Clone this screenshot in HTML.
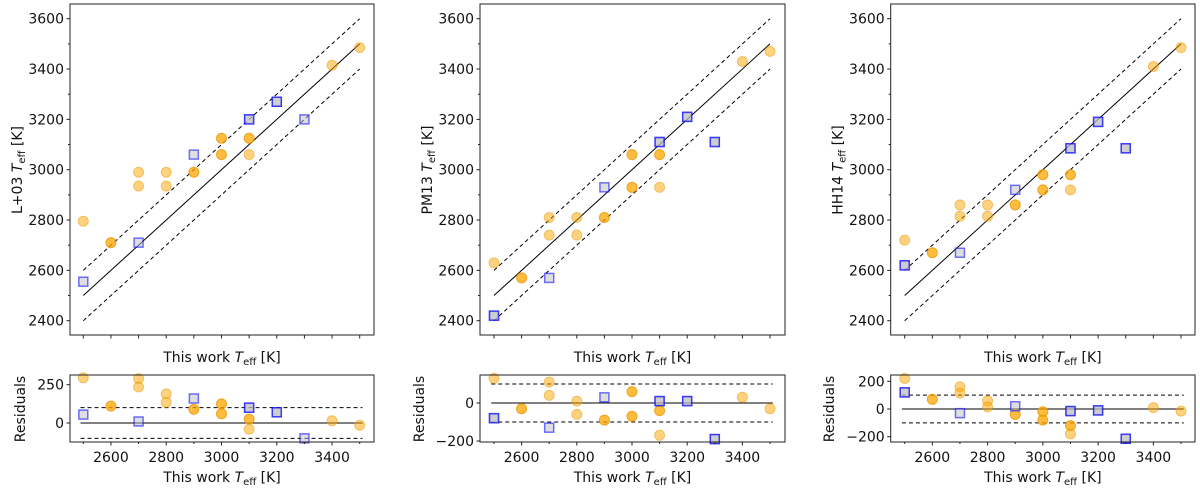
<!DOCTYPE html>
<html><head><meta charset="utf-8"><style>
body{margin:0;background:#fff;}
svg{display:block;font-family:"DejaVu Sans","Liberation Sans",sans-serif;}
</style></head><body>
<svg id="fig" width="1200" height="488" viewBox="0 0 1200 488" xmlns="http://www.w3.org/2000/svg"></svg>
<script>
// ---- data ----
const panelNames = ["L+03", "PM13", "HH14"];
const orangeX1 = [2500,2600,2600,2700,2700,2800,2800,2900,2900,3000,3000,3000,3000,3100,3100,3100,3400,3500];
const orangeY1 = [2795,2710,2710,2990,2935,2990,2935,2990,2990,3125,3125,3060,3060,3125,3125,3060,3415,3485];
const blueX1 = [2500,2700,2900,3100,3100,3200,3200,3300];
const blueY1 = [2555,2710,3060,3200,3200,3270,3270,3200];
const orangeX2 = [2500,2600,2600,2700,2700,2800,2800,2900,2900,3000,3000,3000,3000,3100,3100,3100,3400,3500];
const orangeY2 = [2630,2570,2570,2810,2740,2810,2740,2810,2810,3060,3060,2930,2930,3060,3060,2930,3430,3470];
const blueX2 = [2500,2500,2700,2900,3100,3100,3200,3200,3300,3300];
const blueY2 = [2420,2420,2570,2930,3110,3110,3210,3210,3110,3110];
const orangeX3 = [2500,2600,2600,2700,2700,2800,2800,2900,2900,3000,3000,3000,3000,3100,3100,3100,3400,3500];
const orangeY3 = [2720,2670,2670,2860,2815,2860,2815,2860,2860,2980,2980,2920,2920,2980,2980,2920,3410,3485];
const blueX3 = [2500,2500,2700,2900,3100,3100,3200,3200,3300,3300];
const blueY3 = [2620,2620,2670,2920,3085,3085,3190,3190,3085,3085];
const mainYTicks = [2400,2600,2800,3000,3200,3400,3600];
const resXTicks = [2600,2800,3000,3200,3400];
const resTicks1 = [0,250];
const resTicks2 = [-200,0];
const resTicks3 = [-200,0,200];

const NS="http://www.w3.org/2000/svg";
const svg=document.getElementById('fig');
function el(tag,attrs,parent){const e=document.createElementNS(NS,tag);for(const k in attrs)e.setAttribute(k,attrs[k]);(parent||svg).appendChild(e);return e;}

const panels=[
 {name:panelNames[0],ox:orangeX1,oy:orangeY1,bx:blueX1,by:blueY1,box:[70,374],x0:83.3,x1:359.7,rt:resTicks1,r0:423,rpx:38.3/250,rmin:[],rlabX:20},
 {name:panelNames[1],ox:orangeX2,oy:orangeY2,bx:blueX2,by:blueY2,box:[480,785],x0:494,x1:770,rt:resTicks2,r0:403,rpx:38/200,rlabX:419},
 {name:panelNames[2],ox:orangeX3,oy:orangeY3,bx:blueX3,by:blueY3,box:[890.7,1195],x0:904.7,x1:1181,rt:resTicks3,r0:409,rpx:27.7/200,rlabX:829}
];
const MT=4,MB=335,RT=375,RB=442;
function my(v){return 320.7-(v-2400)*(302/1200);}

panels.forEach((p,i)=>{
 const g=el('g',{});
 
 
 const sx=v=>p.x0+(v-2500)*(p.x1-p.x0)/1000;
 const ry=v=>p.r0-v*p.rpx;
 const L=p.box[0],R=p.box[1];
 // main reference lines
 const lines=[[0,'none'],[100,'4,3'],[-100,'4,3']];
 lines.forEach(([o,d])=>{
  const ln=el('line',{x1:sx(2500),y1:my(2500+o),x2:sx(3500),y2:my(3500+o),stroke:'#000','stroke-width':1,'stroke-dasharray':d},g);
  
  
 });
 // residual lines
 lines.forEach(([o,d])=>{
  const ln=el('line',{x1:sx(2490),y1:ry(o),x2:sx(3510),y2:ry(o),stroke:'#000','stroke-width':1,'stroke-dasharray':d},g);
  
  
 });
 // points
 p.ox.forEach((x,k)=>{
  const y=p.oy[k];
  [[my(y)],[ry(y-x)]].forEach(([cy])=>{
   const c=el('circle',{cx:sx(x),cy:cy,r:5,fill:'rgba(255,165,0,0.5)',stroke:'rgba(230,150,0,0.5)','stroke-width':1},g);
   
   
  });
 });
 p.bx.forEach((x,k)=>{
  const y=p.by[k];
  [my(y),ry(y-x)].forEach(cy=>{
   const r=el('rect',{x:sx(x)-4.5,y:cy-4.5,width:9,height:9,fill:'rgba(190,190,190,0.5)',stroke:'rgba(0,0,255,0.55)','stroke-width':1.5},g);
   
   
  });
 });
 // boxes
 const b1=el('rect',{x:L,y:MT,width:R-L,height:MB-MT,fill:'none',stroke:'#222','stroke-width':1},g);
 
 
 const b2=el('rect',{x:L,y:RT,width:R-L,height:RB-RT,fill:'none',stroke:'#222','stroke-width':1},g);
 
 
 // main y ticks
 for(let v=2400;v<=3600;v+=100){
  const big=mainYTicks.includes(v);
  el('line',{x1:L,x2:L-(big?3.5:2),y1:my(v),y2:my(v),stroke:'#222'},g);
 }
 mainYTicks.forEach(v=>{
  const t=el('text',{x:L-6,y:my(v)+5,'text-anchor':'end','font-size':14,fill:'#111'},g);
  t.textContent=v;
  
  
 });
 // main x ticks (no labels)
 for(let v=2500;v<=3500;v+=100){el('line',{x1:sx(v),x2:sx(v),y1:MB,y2:MB+3.5,stroke:'#222'},g);}
 // residual x ticks
 for(let v=2500;v<=3500;v+=100){
  const big=resXTicks.includes(v);
  el('line',{x1:sx(v),x2:sx(v),y1:RB,y2:RB+(big?3.5:2),stroke:'#222'},g);
 }
 resXTicks.forEach(v=>{
  const t=el('text',{x:sx(v),y:RB+20,'text-anchor':'middle','font-size':14,fill:'#111'},g);
  t.textContent=v;
  
  
 });
 // residual y ticks
 p.rt.forEach(v=>{
  el('line',{x1:L,x2:L-3.5,y1:ry(v),y2:ry(v),stroke:'#222'},g);
  const t=el('text',{x:L-6,y:ry(v)+5,'text-anchor':'end','font-size':14,fill:'#111'},g);
  t.textContent=v<0?'\u2212'+(-v):v;
  
  
 });
 // labels
 const cx=(L+R)/2;
 [[357,'main-x-axis-title'],[477,'residual-x-axis-title']].forEach(([yy,nm])=>{
  const t=el('text',{x:cx,y:yy+5,'text-anchor':'middle','font-size':14,fill:'#111'},g);
  t.innerHTML='This work <tspan font-style="italic">T</tspan><tspan font-size="10" dy="3">eff</tspan><tspan dy="-3"> [K]</tspan>';
  
  
 });
 const yl=el('text',{x:0,y:0,'text-anchor':'middle','font-size':14,fill:'#111',transform:`translate(${L-48+(i===0?0:0)},170) rotate(-90)`},g);
 yl.innerHTML=p.name+' <tspan font-style="italic">T</tspan><tspan font-size="10" dy="3">eff</tspan><tspan dy="-3"> [K]</tspan>';
 
 
 const rl=el('text',{x:0,y:0,'text-anchor':'middle','font-size':14,fill:'#111',transform:`translate(${p.rlabX+5},409) rotate(-90)`},g);
 rl.textContent='Residuals';
 
 
});
</script>
</body></html>
